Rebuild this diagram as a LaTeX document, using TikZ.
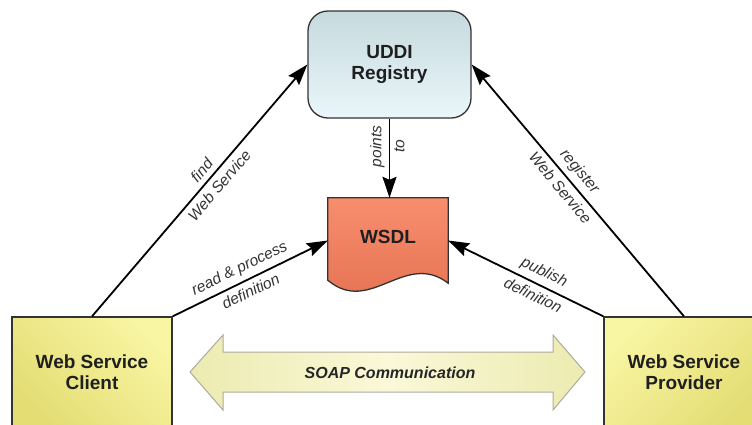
\documentclass[tikz,border=0pt]{standalone}
\usepackage{fontspec}
\setmainfont{Liberation Sans}
\usetikzlibrary{arrows.meta,calc}

\definecolor{uddiTop}{HTML}{C6DADE}
\definecolor{uddiBot}{HTML}{EAF6FA}
\definecolor{wsdlTop}{HTML}{F88E6E}
\definecolor{wsdlBot}{HTML}{E26F4F}
\definecolor{ylLight}{HTML}{F8F5A3}
\definecolor{ylDark}{HTML}{E4DD74}
\definecolor{soapEdge}{HTML}{ECEBB0}
\definecolor{soapMid}{HTML}{FAF8D8}
\definecolor{soapLine}{HTML}{ABABA0}
\definecolor{edgeCol}{HTML}{333333}

\begin{document}
\begin{tikzpicture}[x=1pt,y=-1pt,
  boxtext/.style={font=\fontsize{19}{21.5}\selectfont\bfseries, text=black!88, align=center},
  endbox/.style={draw=edgeCol, line width=1.3pt, minimum width=160pt, minimum height=110pt,
    inner sep=0pt, boxtext},
  conn/.style={draw=black, line width=1.8pt, -{Stealth[length=21pt,width=14pt,inset=3pt]}},
  lbl/.style={font=\fontsize{15.5}{18}\selectfont\itshape, text=black!80, inner sep=5pt},
  slbl/.style={lbl, sloped}
]
\useasboundingbox (0,0) rectangle (752,424);
\clip (0,0) rectangle (752,424);
\fill[white] (0,0) rectangle (752,424);

% registry
\node[boxtext, draw=edgeCol, line width=1.3pt, rounded corners=20pt,
  minimum width=163pt, minimum height=107pt, inner sep=0pt,
  top color=uddiTop, bottom color=uddiBot] (uddi) at (389.5,64.5) {UDDI\\Registry};

% service description document
\node[minimum width=120pt, minimum height=85pt, inner sep=0pt] (wsdl) at (388,240.5) {};
\path[draw=edgeCol, line width=1.3pt, top color=wsdlTop, bottom color=wsdlBot]
  (wsdl.north west) -- (wsdl.north east) -- (wsdl.south east)
  .. controls (405,250) and (370,316) .. ($(wsdl.south west)+(0,-3)$) -- cycle;
\node[boxtext] (wsdltext) at ($(wsdl.center)+(0,-3.5)$) {WSDL};

% client and provider
\node[endbox, top color=ylLight, bottom color=ylDark, shading angle=-45]
  (client) at (92,372) {Web Service\\Client};
\node[endbox, top color=ylLight, bottom color=ylDark, shading angle=45]
  (provider) at (684,372) {Web Service\\Provider};

% SOAP exchange
\path[draw=soapLine, line width=1pt, left color=soapEdge, right color=soapEdge, middle color=soapMid]
  (190,372) -- (223,335) -- (223,352) -- (553,352) -- (553,335) -- (585,372)
  -- (553,410) -- (553,392) -- (223,392) -- (223,410) -- cycle;
\node[font=\fontsize{16}{18}\selectfont\bfseries\itshape, text=black!85] (soap) at (390,373) {SOAP Communication};

% connectors
\draw[conn] (client.north) --
  node[slbl, above, pos=0.55] {find}
  node[slbl, below, pos=0.55] {Web Service} (uddi.west);
\draw[conn] (client.north east) --
  node[slbl, above, pos=0.47] {read \& process}
  node[slbl, below, pos=0.47] {definition} (wsdl.west);
\draw[conn] (provider.north west) --
  node[slbl, above, pos=0.42] {publish}
  node[slbl, below, pos=0.42] {definition} (wsdl.east);
\draw[conn] (provider.north) --
  node[slbl, above, pos=0.54] {register}
  node[slbl, below, pos=0.54] {Web Service} (uddi.east);
\draw[conn] (uddi.south) --
  node[lbl, rotate=90, anchor=south, pos=0.35, inner sep=4pt] {points}
  node[lbl, rotate=90, anchor=north, pos=0.35, inner sep=4pt] {to} (uddi.south |- wsdl.north);
\end{tikzpicture}
\end{document}
